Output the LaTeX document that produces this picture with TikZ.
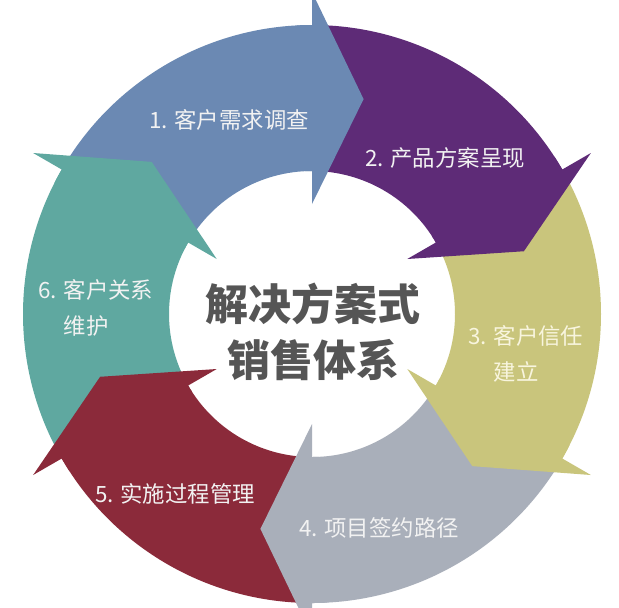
\documentclass[tikz,border=0pt]{standalone}
\usepackage{fontspec}
\usepackage{tikz}
\newfontfamily\cjk{Noto Sans CJK SC}
\definecolor{rgBlue}{HTML}{6B89B3}
\definecolor{rgPurple}{HTML}{5E2B77}
\definecolor{rgOlive}{HTML}{C9C57C}
\definecolor{rgGray}{HTML}{A9AFBA}
\definecolor{rgRed}{HTML}{8B2A3A}
\definecolor{rgTeal}{HTML}{5FA8A0}
\definecolor{rgHub}{HTML}{555555}
\definecolor{rgCream}{HTML}{F8F5DE}
\def\ringOut{289}
\def\ringIn{143}

\begin{document}
\begin{tikzpicture}[x=0.5pt, y=0.5pt,
  stepname/.style={font=\cjk\fontsize{11.2}{18}\selectfont, text=white!95!black, inner sep=0pt},
  hub/.style={font=\cjk\bfseries\fontsize{21.5}{28}\selectfont, text=rgHub, align=center, inner sep=0pt}
]
\useasboundingbox (-312,-293) rectangle (307,314);
\clip (-312,-293) rectangle (307,314);
\fill[white] (-312,-293) rectangle (307,314);

% ring bodies, each from the previous arrow head to its own head
\foreach \b/\c in {90/rgBlue, 30/rgPurple, -30/rgOlive, -90/rgGray, -150/rgRed, 150/rgTeal}
  \fill[\c] (\b+60:\ringIn) -- (\b+60:\ringOut) arc[start angle=\b+60, end angle=\b, radius=\ringOut]
    -- (\b:\ringIn) arc[start angle=\b, end angle=\b+60, radius=\ringIn] -- cycle;

% arrow heads on top of the next body
\foreach \b/\c in {90/rgBlue, 30/rgPurple, -30/rgOlive, -90/rgGray, -150/rgRed, 150/rgTeal}
  \fill[\c] (\b+3:\ringOut) arc[start angle=\b+3, end angle=\b, radius=\ringOut]
    -- (\b:322) -- (\b-13.5:221) -- (\b:110)
    -- (\b:\ringIn) arc[start angle=\b, end angle=\b+3, radius=\ringIn] -- cycle;

\node[hub] (hub) at (1,-18) {解决方案式\\销售体系};

\node[stepname] (s1) at (-83,194) {1. 客户需求调查};
\node[stepname] (s2) at (133,156) {2. 产品方案呈现};
\node[stepname, text=rgCream, anchor=west, align=left] (s3) at (156,-40) {3. 客户信任\\\phantom{3. }建立};
\node[stepname] (s4) at (67,-214) {4. 项目签约路径};
\node[stepname] (s5) at (-137,-180) {5. 实施过程管理};
\node[stepname, anchor=west, align=left] (s6) at (-274,6) {6. 客户关系\\\phantom{6. }维护};
\end{tikzpicture}
\end{document}
